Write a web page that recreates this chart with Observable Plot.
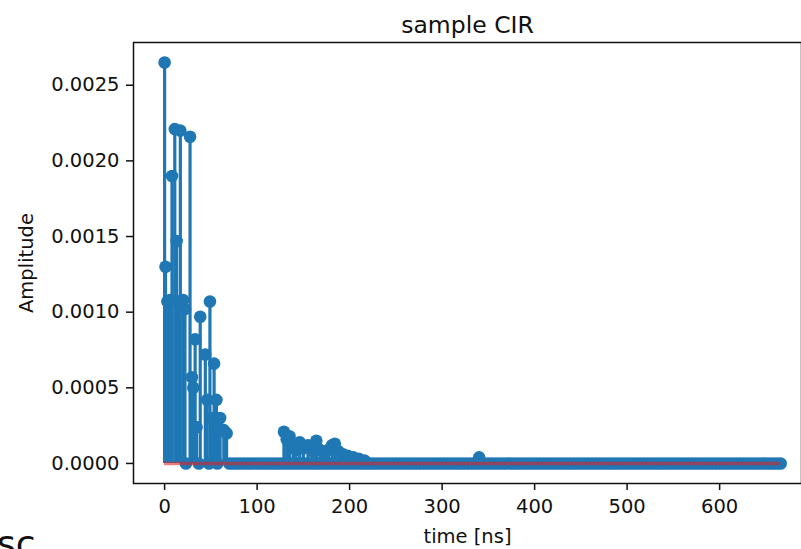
<!DOCTYPE html>
<html>
<head>
<meta charset="utf-8">
<script src="https://cdn.jsdelivr.net/npm/d3@7"></script>
<script src="https://cdn.jsdelivr.net/npm/@observablehq/plot@0.6"></script>
<style>
  html, body { margin: 0; padding: 0; background: #fff; overflow: hidden; }
  #wrap { position: relative; width: 801px; height: 549px; overflow: hidden; }
  #frag { position: absolute; left: -3px; top: 526px; font: 36px/36px "DejaVu Sans", sans-serif; color: #111; }
</style>
</head>
<body>
<div id="wrap"><div id="chart"></div><div id="frag">sc</div></div>
<script>
// Non-zero CIR taps (time in ns, amplitude)
const peakTimes = [0, 1, 3, 6, 8, 11, 13, 15, 17, 20, 22, 27.5, 29.5, 31, 33, 34.5, 38.5, 44, 46, 49, 51, 53.5, 56, 58, 60, 64, 67,
  129, 132, 135, 139, 142, 146, 150, 155, 160, 164, 168, 172, 177, 181, 184, 188, 193, 198, 204, 210, 216, 340];
const peakAmps = [0.00265, 0.00130, 0.00107, 0.00108, 0.00190, 0.00221, 0.00147, 0.00107, 0.00220, 0.00108, 0.00102, 0.00216, 0.00057, 0.00050, 0.00082, 0.00024, 0.00097, 0.00072, 0.00042, 0.00107, 0.00030, 0.00066, 0.00042, 0.00024, 0.00030, 0.00022, 0.00020,
  0.00021, 0.00016, 0.00018, 0.00011, 0.00009, 0.00014, 0.00010, 0.00012, 0.00008, 0.00015, 0.00009, 0.00007, 0.00009, 0.00012, 0.00013, 0.00008, 0.00006, 0.00005, 0.00004, 0.00003, 0.00002, 0.00004];
// Samples at (near) zero amplitude
const floorTimes = [23, 37, 48, 57,
  70, 74, 78, 82, 86, 90, 94, 98, 102, 106, 110, 114, 118, 122, 126, 130, 134, 138, 142, 146, 150, 154, 158, 162, 166, 170,
  174, 178, 182, 186, 190, 194, 198, 202, 206, 210, 214, 218, 222, 226, 230, 234, 238, 242, 246, 250, 254, 258, 262, 266,
  270, 274, 278, 282, 286, 290, 294, 298, 302, 306, 310, 314, 318, 322, 326, 330, 334, 338, 342, 346, 350, 354, 358, 362,
  366, 370, 374, 378, 382, 386, 390, 394, 398, 402, 406, 410, 414, 418, 422, 426, 430, 434, 438, 442, 446, 450, 454, 458,
  462, 466, 470, 474, 478, 482, 486, 490, 494, 498, 502, 506, 510, 514, 518, 522, 526, 530, 534, 538, 542, 546, 550, 554,
  558, 562, 566, 570, 574, 578, 582, 586, 590, 594, 598, 602, 606, 610, 614, 618, 622, 626, 630, 634, 638, 642, 646, 650,
  654, 658, 662, 666];
const xTicks = [0, 100, 200, 300, 400, 500, 600];
const yTicks = [0, 0.0005, 0.0010, 0.0015, 0.0020, 0.0025];
const titleText = "sample CIR";
const xLabel = "time [ns]";
const yLabel = "Amplitude";

const data = [
  ...peakTimes.map((t, i) => ({t, a: peakAmps[i]})),
  ...floorTimes.map(t => ({t, a: 0}))
].sort((p, q) => p.t - q.t);

const tMin = d3.min(data, d => d.t), tMax = d3.max(data, d => d.t);
const aMax = d3.max(data, d => d.a);
const xPad = (tMax - tMin) * 0.05, yPad = aMax * 0.05;

const blue = "#1f77b4";
const font = "DejaVu Sans, sans-serif";

const plot = Plot.plot({
  width: 801,
  height: 549,
  marginLeft: 133,
  marginTop: 42,
  marginBottom: 66,
  marginRight: 0,
  style: {fontFamily: font, fontSize: "19.5px", color: "#111", background: "#fff"},
  x: {domain: [tMin - xPad, tMax + xPad], range: [133.3, 811]},
  y: {domain: [-yPad, aMax + yPad], range: [483, 42]},
  marks: [
    Plot.ruleX(data, {x: "t", y1: 0, y2: "a", stroke: blue, strokeWidth: 3.2}),
    Plot.dot(data, {x: "t", y: "a", r: 6.3, fill: blue, stroke: null}),
    Plot.ruleY([0], {x1: tMin, x2: tMax, stroke: "#d62728", strokeWidth: 3.5, strokeOpacity: 0.6}),
    Plot.frame({stroke: "#111", strokeWidth: 1.5}),
    Plot.axisX({ticks: xTicks, tickSize: 7, tickPadding: 9, strokeWidth: 1.5, fontSize: 19.5, label: null, tickFormat: d3.format("d")}),
    Plot.axisY({ticks: yTicks, tickSize: 7, tickPadding: 7, strokeWidth: 1.5, fontSize: 19.5, label: null, tickFormat: d3.format(".4f")}),
    Plot.text([xLabel], {frameAnchor: "bottom", dy: 59, fontSize: 19.5, fill: "#111"}),
    Plot.text([yLabel], {frameAnchor: "left", textAnchor: "middle", rotate: -90, dx: -107, fontSize: 19.5, fill: "#111"}),
    Plot.text([titleText], {frameAnchor: "top", dy: -26, fontSize: 23.5, fill: "#111"})
  ]
});
document.getElementById("chart").appendChild(plot);
</script>
</body>
</html>
